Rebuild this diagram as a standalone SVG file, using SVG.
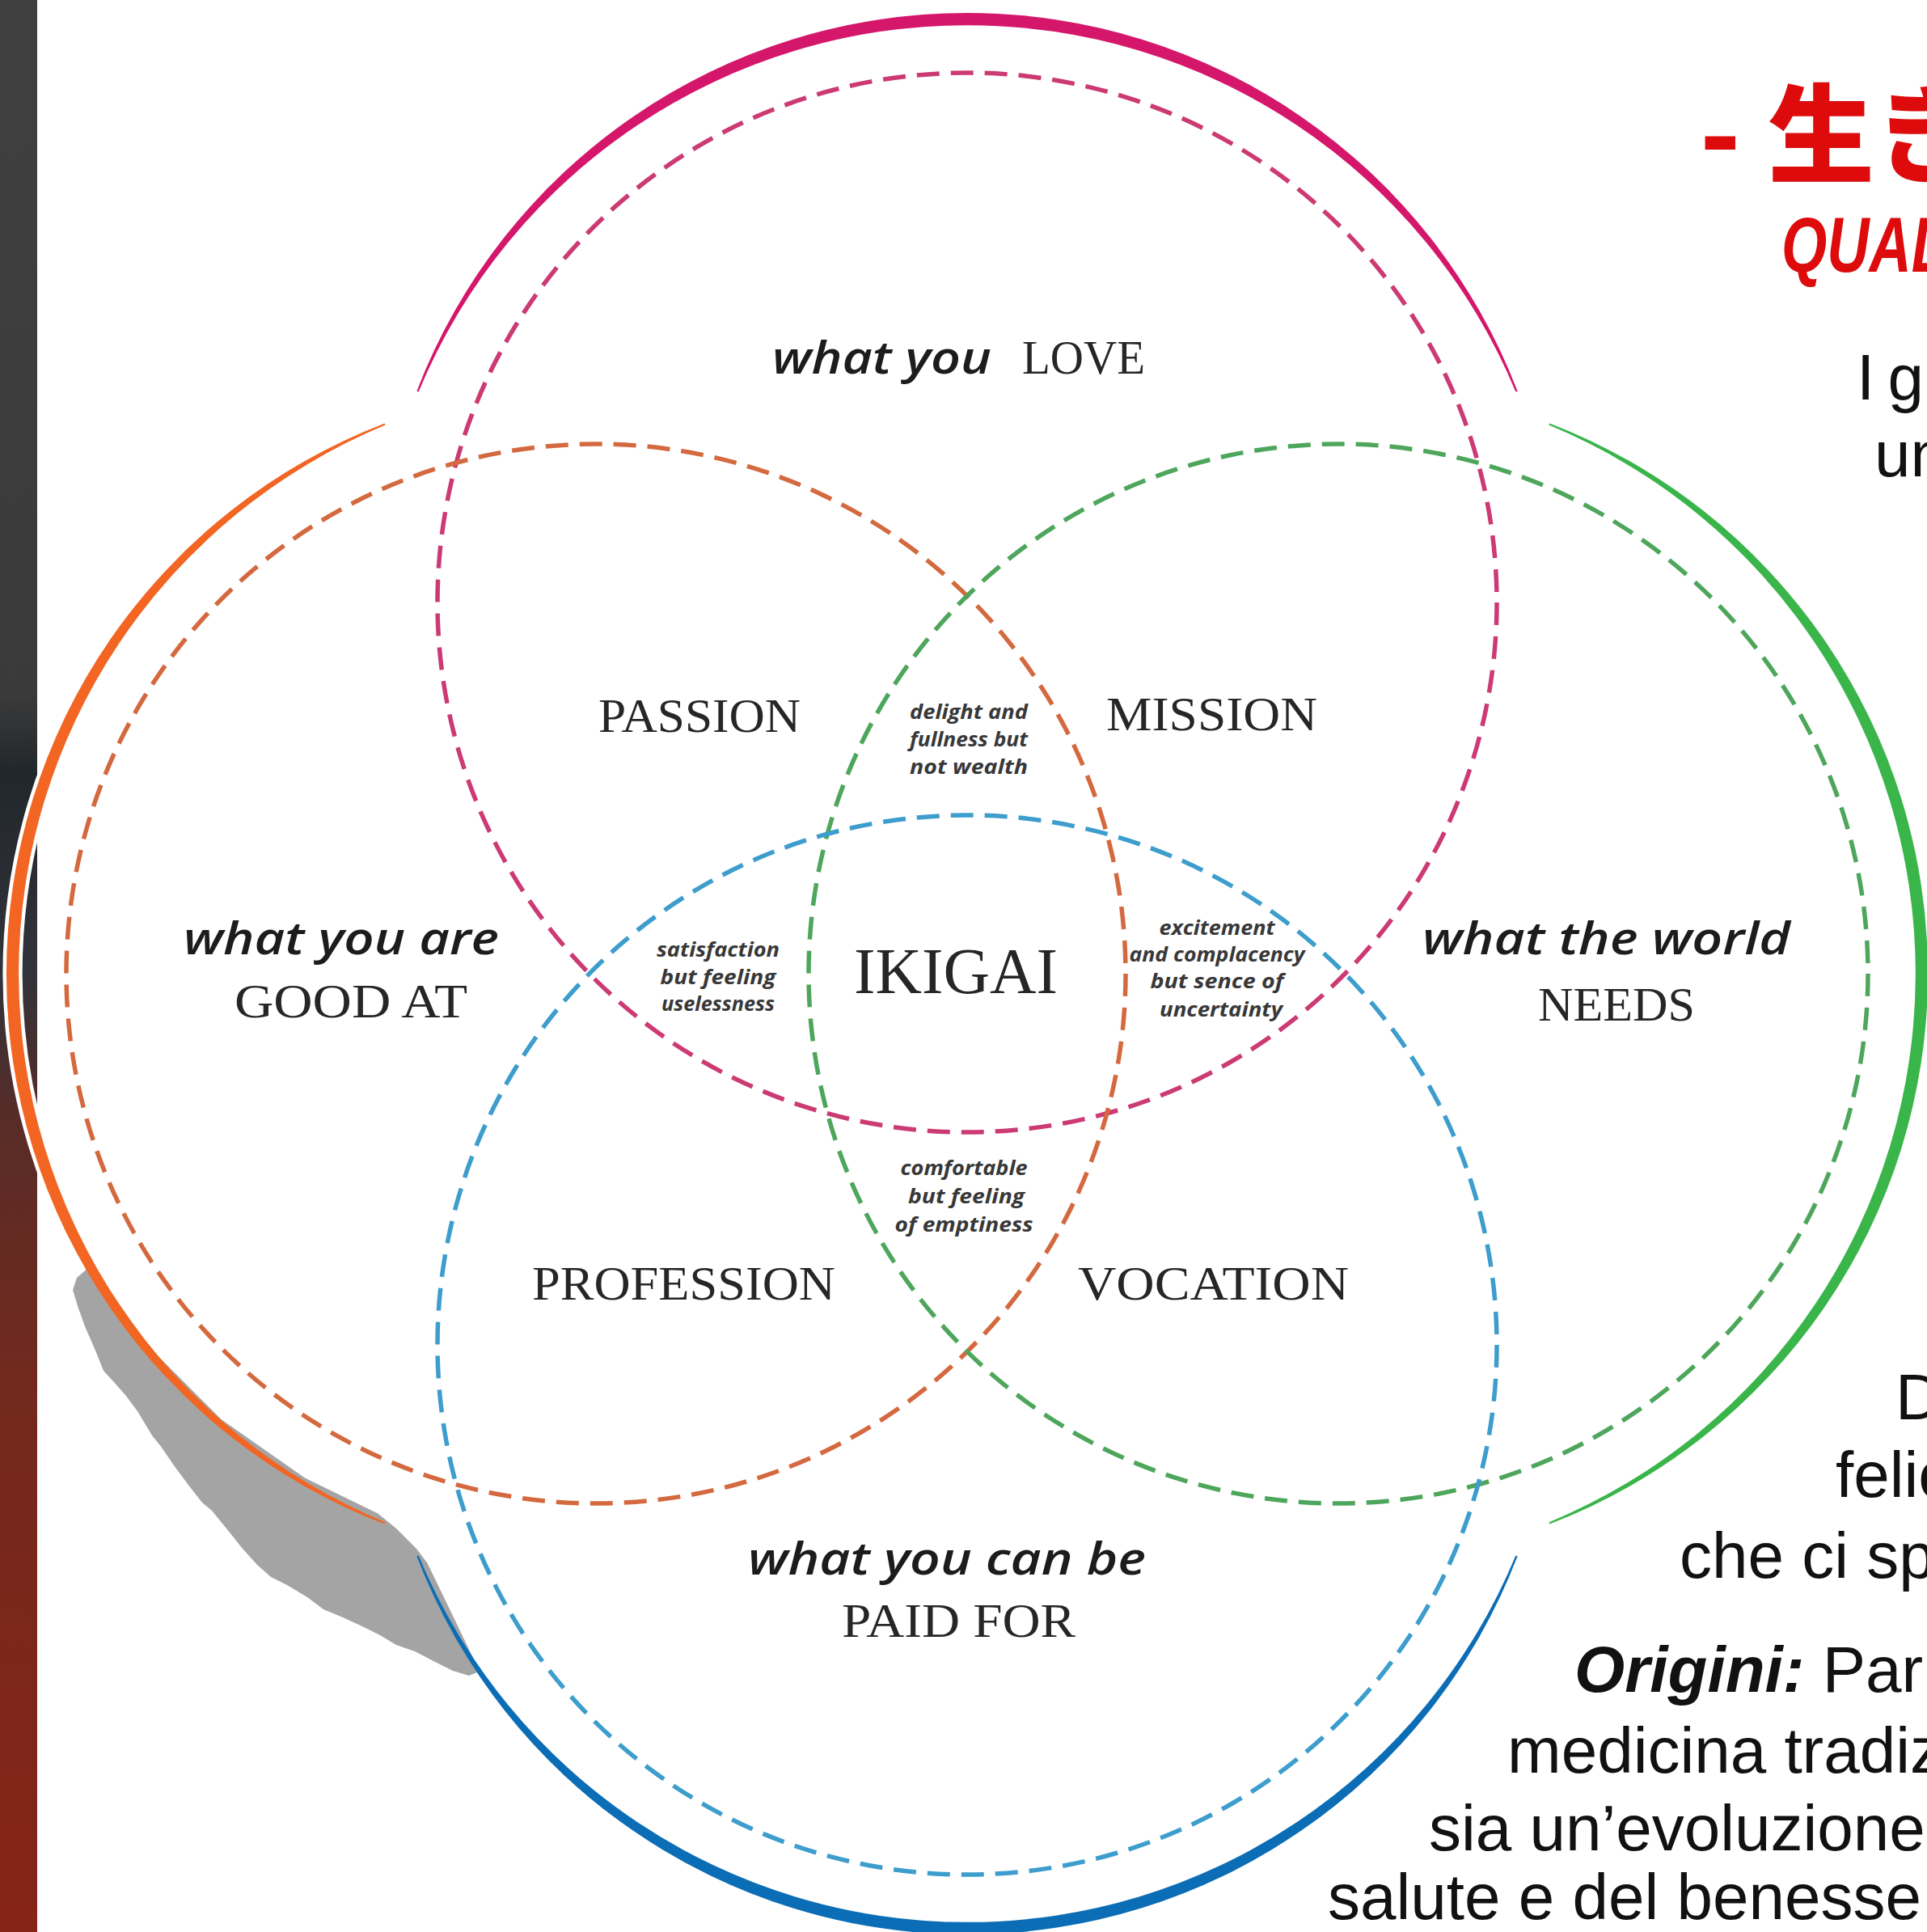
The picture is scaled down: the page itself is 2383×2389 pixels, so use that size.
<svg xmlns="http://www.w3.org/2000/svg" width="2383" height="2389" viewBox="0 0 2383 2389">
<defs>
<linearGradient id="strip" x1="0" y1="0" x2="0" y2="1">
<stop offset="0" stop-color="#404040"/>
<stop offset="0.36" stop-color="#3a3a3a"/>
<stop offset="0.4" stop-color="#22272b"/>
<stop offset="0.5" stop-color="#30333a"/>
<stop offset="0.58" stop-color="#582c27"/>
<stop offset="0.72" stop-color="#73291d"/>
<stop offset="1" stop-color="#862417"/>
</linearGradient>
<path id="arc" d="M 515.4 483.7 A 729 729 0 0 1 1876.6 483.7 L 1874.4 484.6 A 734.2 734.2 0 0 0 517.6 484.6 Z"/>
</defs>
<style>
.script{font-family:'Open Sans','DejaVu Sans',sans-serif;font-style:italic;font-weight:600;font-size:56px;fill:#1c1c1c;}
.cap{font-family:'Liberation Serif','DejaVu Serif',serif;font-size:60px;fill:#262626;}
.note{font-family:'Open Sans','DejaVu Sans',sans-serif;font-style:italic;font-weight:700;font-size:25px;fill:#383838;text-anchor:middle;}
.body{font-family:'Liberation Sans',Arial,sans-serif;font-size:80px;fill:#111;}
.dash{fill:none;stroke-width:5.5;stroke-dasharray:28 14;}
</style>

<g id="background">
<rect x="0" y="0" width="2383" height="2389" fill="#ffffff"/>
<rect x="0" y="0" width="46" height="2389" fill="url(#strip)"/>
<use href="#arc" transform="rotate(270 1196 1204)" fill="none" stroke="#ffffff" stroke-width="9"/>
<path id="shadow" fill="#a4a4a4" d="M 95 1580 L 113.5 1564 L 185.4 1666.8 L 274.2 1755.6 L 377 1827.5 L 467.3 1871.6 L 490 1890 L 515 1915 L 528.4 1932.7 L 560 1998 L 585 2050 L 590 2068 L 580 2072 L 560 2066 L 540 2056 L 513 2042 L 490 2034 L 470 2022 L 450 2012 L 424 2000 L 400 1990 L 380 1975 L 355 1960 L 335 1950 L 318 1935 L 300 1915 L 280 1890 L 262 1868 L 250 1858 L 232 1835 L 215 1812 L 200 1790 L 188 1775 L 170 1745 L 155 1725 L 140 1708 L 128 1695 L 118 1670 L 105 1640 L 96 1615 L 90 1595 Z"/>
</g>

<g id="outer-arcs">
<use href="#arc" fill="#d5176b"/>
<use href="#arc" transform="rotate(90 1196 1204)" fill="#3ab54a"/>
<use href="#arc" transform="rotate(180 1196 1204)" fill="#0b6db5"/>
<use href="#arc" transform="rotate(270 1196 1204)" fill="#f26522"/>
</g>

<g id="love">
<text class="script" x="955" y="462" textLength="271" lengthAdjust="spacingAndGlyphs">what you</text>
<text class="cap" x="1264" y="462" textLength="152" lengthAdjust="spacingAndGlyphs">LOVE</text>
</g>
<g id="good-at">
<text class="script" x="227" y="1180" textLength="390" lengthAdjust="spacingAndGlyphs">what you are</text>
<text class="cap" x="290" y="1258" textLength="288" lengthAdjust="spacingAndGlyphs">GOOD AT</text>
</g>
<g id="world-needs">
<text class="script" x="1759" y="1180" textLength="455" lengthAdjust="spacingAndGlyphs">what the world</text>
<text class="cap" x="1902" y="1262" textLength="194" lengthAdjust="spacingAndGlyphs">NEEDS</text>
</g>
<g id="paid-for">
<text class="script" x="925" y="1947" textLength="492" lengthAdjust="spacingAndGlyphs">what you can be</text>
<text class="cap" x="1041" y="2024" textLength="289" lengthAdjust="spacingAndGlyphs">PAID FOR</text>
</g>
<g id="passion"><text class="cap" x="740" y="905" textLength="250" lengthAdjust="spacingAndGlyphs">PASSION</text></g>
<g id="mission"><text class="cap" x="1368" y="903" textLength="261" lengthAdjust="spacingAndGlyphs">MISSION</text></g>
<g id="profession"><text class="cap" x="658" y="1607" textLength="375" lengthAdjust="spacingAndGlyphs">PROFESSION</text></g>
<g id="vocation"><text class="cap" x="1333" y="1607" textLength="335" lengthAdjust="spacingAndGlyphs">VOCATION</text></g>
<g id="ikigai"><text class="cap" x="1056" y="1228" style="font-size:80px" textLength="252" lengthAdjust="spacingAndGlyphs">IKIGAI</text></g>

<g id="note-love-world">
<text class="note" x="1198" y="889" textLength="146" lengthAdjust="spacingAndGlyphs">delight and</text>
<text class="note" x="1198" y="923" textLength="146" lengthAdjust="spacingAndGlyphs">fullness but</text>
<text class="note" x="1198" y="957" textLength="146" lengthAdjust="spacingAndGlyphs">not wealth</text>
</g>
<g id="note-love-good">
<text class="note" x="888" y="1183" textLength="152" lengthAdjust="spacingAndGlyphs">satisfaction</text>
<text class="note" x="888" y="1217" textLength="143" lengthAdjust="spacingAndGlyphs">but feeling</text>
<text class="note" x="888" y="1250" textLength="140" lengthAdjust="spacingAndGlyphs">uselessness</text>
</g>
<g id="note-world-paid">
<text class="note" x="1505" y="1156" textLength="143" lengthAdjust="spacingAndGlyphs">excitement</text>
<text class="note" x="1505" y="1189" textLength="217" lengthAdjust="spacingAndGlyphs">and complacency</text>
<text class="note" x="1505" y="1222" textLength="165" lengthAdjust="spacingAndGlyphs">but sence of</text>
<text class="note" x="1510" y="1257" textLength="152" lengthAdjust="spacingAndGlyphs">uncertainty</text>
</g>
<g id="note-good-paid">
<text class="note" x="1192" y="1453" textLength="157" lengthAdjust="spacingAndGlyphs">comfortable</text>
<text class="note" x="1195" y="1488" textLength="144" lengthAdjust="spacingAndGlyphs">but feeling</text>
<text class="note" x="1192" y="1523" textLength="171" lengthAdjust="spacingAndGlyphs">of emptiness</text>
</g>

<g id="circles">
<circle class="dash" cx="1196" cy="745" r="655" stroke="#cc3a74"/>
<circle class="dash" cx="737" cy="1204" r="655" stroke="#d4693f"/>
<circle class="dash" cx="1655" cy="1204" r="655" stroke="#4ea65c"/>
<circle class="dash" cx="1196" cy="1663" r="655" stroke="#3d9dcc"/>
</g>

<g id="side-text">
<text x="2105" y="215" style="font-family:'Noto Sans CJK JP',sans-serif;font-weight:900;font-size:132px;fill:#dd0b0b"><tspan x="2102">-</tspan><tspan x="2186">生き</tspan></text>
<text x="2203" y="336" style="font-family:'Liberation Sans',Arial,sans-serif;font-weight:700;font-style:italic;font-size:96px;fill:#dd0b0b" textLength="205" lengthAdjust="spacingAndGlyphs">QUAL</text>
<text class="body" x="2296" y="494" word-spacing="-6">I g</text>
<text class="body" x="2318" y="589">un</text>
<text class="body" x="2344" y="1755">D</text>
<text class="body" x="2270" y="1851">felic</text>
<text class="body" x="2077" y="1951">che ci sp</text>
<text class="body" x="1947" y="2092"><tspan style="font-weight:700;font-style:italic">Origini:</tspan> Par</text>
<text class="body" x="1864" y="2192">medicina tradiz</text>
<text class="body" x="1767" y="2288">sia un’evoluzione</text>
<text class="body" x="1642" y="2373">salute e del benesse</text>
</g>
</svg>
